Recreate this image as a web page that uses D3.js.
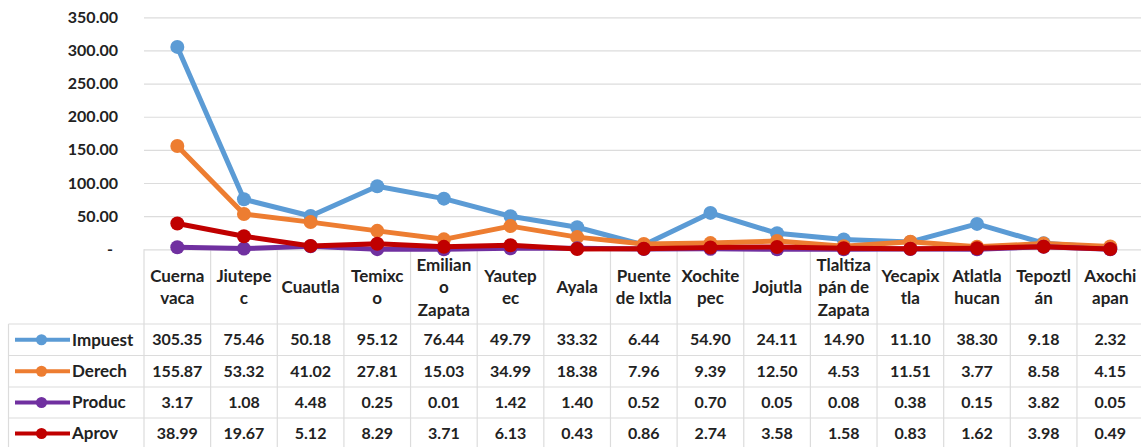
<!DOCTYPE html>
<html>
<head>
<meta charset="utf-8">
<script src="https://cdn.jsdelivr.net/npm/d3@7/dist/d3.min.js"></script>
<style>
html,body{margin:0;padding:0;background:#fff;}
svg{display:block;}
text{font-family:Lato,"Open Sans",sans-serif;font-weight:bold;fill:#222;}
</style>
</head>
<body>
<svg id="chart" width="1141" height="447"></svg>
<script>
const categories = ["Cuernavaca","Jiutepec","Cuautla","Temixco","Emiliano Zapata","Yautepec","Ayala","Puente de Ixtla","Xochitepec","Jojutla","Tlaltizapán de Zapata","Yecapixtla","Atlatlahucan","Tepoztlán","Axochiapan"];
const categoryLabelLines = [["Cuerna","vaca"],["Jiutepe","c"],["Cuautla"],["Temixc","o"],["Emilian","o","Zapata"],["Yautep","ec"],["Ayala"],["Puente","de Ixtla"],["Xochite","pec"],["Jojutla"],["Tlaltiza","pán de","Zapata"],["Yecapix","tla"],["Atlatla","hucan"],["Tepoztl","án"],["Axochi","apan"]];
const seriesNames = ["Impuest","Derech","Produc","Aprov"];
const impuest = [305.35,75.46,50.18,95.12,76.44,49.79,33.32,6.44,54.90,24.11,14.90,11.10,38.30,9.18,2.32];
const derech  = [155.87,53.32,41.02,27.81,15.03,34.99,18.38,7.96,9.39,12.50,4.53,11.51,3.77,8.58,4.15];
const produc  = [3.17,1.08,4.48,0.25,0.01,1.42,1.40,0.52,0.70,0.05,0.08,0.38,0.15,3.82,0.05];
const aprov   = [38.99,19.67,5.12,8.29,3.71,6.13,0.43,0.86,2.74,3.58,1.58,0.83,1.62,3.98,0.49];
const yTicks = [0,50,100,150,200,250,300,350];

const seriesValues = [impuest, derech, produc, aprov];
const colors = ["#5b9bd5","#ed7d31","#7030a0","#c00000"];

const svg = d3.select("#chart");
const W = 1141;
const plotLeft = 144, plotRight = 144 + 15*66.64;
const yTop = 17.3, yBottom = 249.3;
const tableLeft = 8.5;
const rowBounds = [249.3, 324, 355.5, 387, 418, 449];
const numSize = 16, wordSize = 17;

const x = d3.scaleBand().domain(categories).range([plotLeft, plotRight]).padding(0);
const y = d3.scaleLinear().domain([0,350]).range([yBottom, yTop]);
const cx = c => x(c) + x.bandwidth()/2;

// Y axis with gridlines
const yAxis = d3.axisLeft(y).tickValues(yTicks)
  .tickSize(-(W - plotLeft)).tickPadding(26)
  .tickFormat(d => d === 0 ? "-" : d.toFixed(2));
const gy = svg.append("g").attr("transform", `translate(${plotLeft},0)`).call(yAxis);
gy.select(".domain").remove();
gy.selectAll(".tick line").attr("stroke", "#dcdcdc").attr("stroke-width", 1.2);
gy.selectAll(".tick text").attr("font-size", numSize).attr("fill", "#222")
  .style("font-family", "Lato, 'Open Sans', sans-serif").style("font-weight", "bold");
gy.selectAll(".tick").filter(d => d === 0).select("text").attr("x", -31);

// Table grid
const tg = svg.append("g").attr("stroke", "#dcdcdc").attr("stroke-width", 1.2).attr("fill", "none");
categories.forEach((c, i) => {
  tg.append("line").attr("x1", x(c)).attr("x2", x(c)).attr("y1", rowBounds[0]).attr("y2", 447);
});
tg.append("line").attr("x1", plotRight).attr("x2", plotRight).attr("y1", rowBounds[0]).attr("y2", 447);
tg.append("line").attr("x1", tableLeft).attr("x2", tableLeft).attr("y1", rowBounds[1]).attr("y2", 447);
rowBounds.slice(1, 5).forEach(yy => {
  tg.append("line").attr("x1", tableLeft).attr("x2", W).attr("y1", yy).attr("y2", yy);
});

// Header labels
const lh = 22.5;
const headerMid = (rowBounds[0] + rowBounds[1]) / 2 + 0.5;
categories.forEach((c, i) => {
  const lines = categoryLabelLines[i];
  const t = svg.append("text").attr("text-anchor", "middle").attr("font-size", wordSize);
  lines.forEach((ln, j) => {
    t.append("tspan").attr("x", cx(c))
      .attr("y", headerMid + (j - (lines.length - 1) / 2) * lh)
      .attr("dy", "0.35em").text(ln);
  });
});

// Table rows
seriesNames.forEach((name, si) => {
  const mid = (rowBounds[si+1] + rowBounds[si+2]) / 2;
  svg.append("line").attr("x1", 15).attr("x2", 70).attr("y1", mid).attr("y2", mid)
    .attr("stroke", colors[si]).attr("stroke-width", 4);
  svg.append("circle").attr("cx", 41.5).attr("cy", mid).attr("r", 5.5).attr("fill", colors[si]);
  svg.append("text").attr("x", 72).attr("y", mid).attr("dy", "0.35em").attr("font-size", wordSize).text(name);
  seriesValues[si].forEach((v, i) => {
    svg.append("text").attr("x", cx(categories[i])).attr("y", mid).attr("dy", "0.35em")
      .attr("text-anchor", "middle").attr("font-size", numSize).text(v.toFixed(2));
  });
});

// Lines and markers
const line = d3.line().x((d, i) => cx(categories[i])).y(d => y(d));
seriesValues.forEach((vals, si) => {
  svg.append("path").datum(vals).attr("d", line).attr("fill", "none")
    .attr("stroke", colors[si]).attr("stroke-width", 5).attr("stroke-linejoin", "round");
  svg.append("g").selectAll("circle").data(vals).join("circle")
    .attr("cx", (d, i) => cx(categories[i])).attr("cy", d => y(d)).attr("r", 7)
    .attr("fill", colors[si]);
});
</script>
</body>
</html>
